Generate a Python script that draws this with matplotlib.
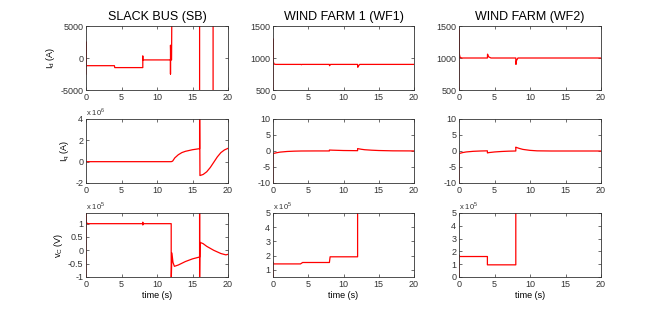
import matplotlib
matplotlib.use("Agg")
import matplotlib.pyplot as plt

plt.rcParams['font.family'] = ['Liberation Sans', 'DejaVu Sans']
plt.rcParams['mathtext.fontset'] = 'custom'
plt.rcParams['mathtext.rm'] = 'Liberation Sans'

# ---- data ----
titles = ["SLACK BUS (SB)", "WIND FARM 1 (WF1)", "WIND FARM (WF2)"]
ylabels = ["I$_\\mathregular{d}$ (A)", "I$_\\mathregular{q}$ (A)", "v$_\\mathregular{C}$ (V)"]
xticks = [0, 5, 10, 15, 20]

# Slack bus
sb_id_t = [0, 0, 0, 0.05, 4, 4.05, 8, 8, 8, 8.05, 11.9, 11.9, 11.9, 11.95, 12.05, 12.1, 16, 16, 17.9, 17.9, 20]
sb_id_y = [-2500, 2500, -1200, -1200, -1200, -1500, -1500, 300, -300, -300, -300, -2500, 2000, -300, -300, 9000, 9000, -9000, -9000, 9000, 9000]

sb_iq_t = [0, 12, 12.2, 12.5, 13, 13.5, 14, 15, 16, 16, 16.05, 16.5, 17, 17.5, 18, 18.5, 19, 19.5, 20]
sb_iq_y = [0, 0, 0.05, 0.35, 0.65, 0.85, 0.97, 1.12, 1.22, 6, -1.3, -1.2, -0.95, -0.55, -0.05, 0.45, 0.85, 1.1, 1.25]

sb_vc_t = [0, 0, 0.02, 0.1, 0.3, 8, 8, 8, 8.02, 12, 12, 12.1, 12.25, 12.45, 13, 14, 15, 16, 16, 16, 16.05, 16.5, 17, 18, 19, 19.7, 20]
sb_vc_y = [-1.2, 1.5, 1.1, 1.02, 1.0, 1.0, 1.05, 0.95, 1.0, 1.0, -1.2, -0.1, -0.45, -0.6, -0.55, -0.42, -0.32, -0.25, 1.5, -1.2, 0.3, 0.25, 0.15, 0.0, -0.12, -0.17, -0.15]

# Wind farm 1
wf1_id_t = [0, 0, 0.05, 0.15, 0.4, 4, 4.02, 4.1, 8, 8.02, 8.15, 12, 12.02, 12.15, 12.3, 20]
wf1_id_y = [500, 1300, 940, 905, 900, 900, 895, 900, 900, 880, 900, 900, 855, 880, 900, 900]

wf1_iq_t = [0, 0, 0.5, 1, 2, 3, 4, 6, 8, 8, 8.5, 10, 12, 12, 12.5, 13, 14, 15, 17, 20]
wf1_iq_y = [-10, -0.8, -0.55, -0.35, -0.15, -0.05, 0, 0.02, 0.02, 0.3, 0.25, 0.15, 0.1, 0.75, 0.55, 0.4, 0.25, 0.15, 0.05, 0.02]

wf1_vc_t = [0, 0, 0.1, 3.9, 4.2, 8, 8.1, 12, 12]
wf1_vc_y = [0.5, 1.55, 1.42, 1.42, 1.52, 1.52, 1.92, 1.92, 6]

# Wind farm 2
wf2_id_t = [0, 0, 0.05, 0.15, 0.4, 4, 4.02, 4.15, 4.5, 8, 8.02, 8.1, 8.3, 20]
wf2_id_y = [500, 1450, 1060, 1010, 1000, 1000, 1060, 1020, 1000, 1000, 900, 960, 1000, 1000]

wf2_iq_t = [0, 0, 0.5, 1, 2, 3, 4, 4, 4.2, 5, 6, 7, 8, 8, 8.1, 8.5, 9, 10, 11, 13, 20]
wf2_iq_y = [-10, -0.8, -0.5, -0.3, -0.1, 0, 0.05, -0.6, -0.5, -0.3, -0.15, -0.05, 0, 1.2, 1.1, 0.8, 0.5, 0.2, 0.05, 0, 0]

wf2_vc_t = [0, 0, 0.1, 4, 4, 8, 8]
wf2_vc_y = [0, 1.7, 1.6, 1.6, 0.95, 0.95, 6]

series = [
    [(sb_id_t, sb_id_y), (wf1_id_t, wf1_id_y), (wf2_id_t, wf2_id_y)],
    [(sb_iq_t, sb_iq_y), (wf1_iq_t, wf1_iq_y), (wf2_iq_t, wf2_iq_y)],
    [(sb_vc_t, sb_vc_y), (wf1_vc_t, wf1_vc_y), (wf2_vc_t, wf2_vc_y)],
]
ylims = [
    [(-5000, 5000), (500, 1500), (500, 1500)],
    [(-2, 4), (-10, 10), (-10, 10)],
    [(-1, 1.4), (0.5, 5), (0, 5)],
]
yticks = [
    [[-5000, 0, 5000], [500, 1000, 1500], [500, 1000, 1500]],
    [[-2, 0, 2, 4], [-10, -5, 0, 5, 10], [-10, -5, 0, 5, 10]],
    [[-1, -0.5, 0, 0.5, 1], [1, 2, 3, 4, 5], [0, 1, 2, 3, 4, 5]],
]
ytick_labels = [
    [["-5000", "0", "5000"], ["500", "1000", "1500"], ["500", "1000", "1500"]],
    [["-2", "0", "2", "4"], ["-10", "-5", "0", "5", "10"], ["-10", "-5", "0", "5", "10"]],
    [["-1", "-0.5", "0", "0.5", "1"], ["1", "2", "3", "4", "5"], ["0", "1", "2", "3", "4", "5"]],
]
exponents = [
    [None, None, None],
    ["6", None, None],
    ["5", "5", "5"],
]

# ---- layout ----
fig = plt.figure(figsize=(6.64, 3.12), dpi=100)
lefts = [86 / 664, 273 / 664, 459 / 664]
widths = [142 / 664, 141 / 664, 142 / 664]
bottoms = [1 - 90 / 312, 1 - 183 / 312, 1 - 277 / 312]
height = 64 / 312

for r in range(3):
    for c in range(3):
        ax = fig.add_axes([lefts[c], bottoms[r], widths[c], height])
        t, y = series[r][c]
        ax.plot(t, y, color="#ff0000", lw=0.9)
        ax.set_xlim(0, 20)
        ax.set_ylim(*ylims[r][c])
        ax.set_xticks(xticks)
        ax.set_yticks(yticks[r][c])
        ax.set_yticklabels(ytick_labels[r][c])
        ax.tick_params(direction="in", top=True, right=True, labelsize=6.5,
                       length=2, width=0.5, pad=2, colors="#333333")
        for s in ax.spines.values():
            s.set_linewidth(0.6)
            s.set_color("#333333")
        if exponents[r][c]:
            ax.text(0.0, 1.02, "x 10$^{%s}$" % exponents[r][c], transform=ax.transAxes,
                    fontsize=5.5, ha="left", va="bottom", color="#333333")
        if r == 0:
            ax.set_title(titles[c], fontsize=9, pad=4)
        if c == 0:
            ax.set_ylabel(ylabels[r], fontsize=6.5, labelpad=2)
        if r == 2:
            ax.set_xlabel("time (s)", fontsize=6.5, labelpad=1.5)

fig.savefig("out.png", dpi=100)
